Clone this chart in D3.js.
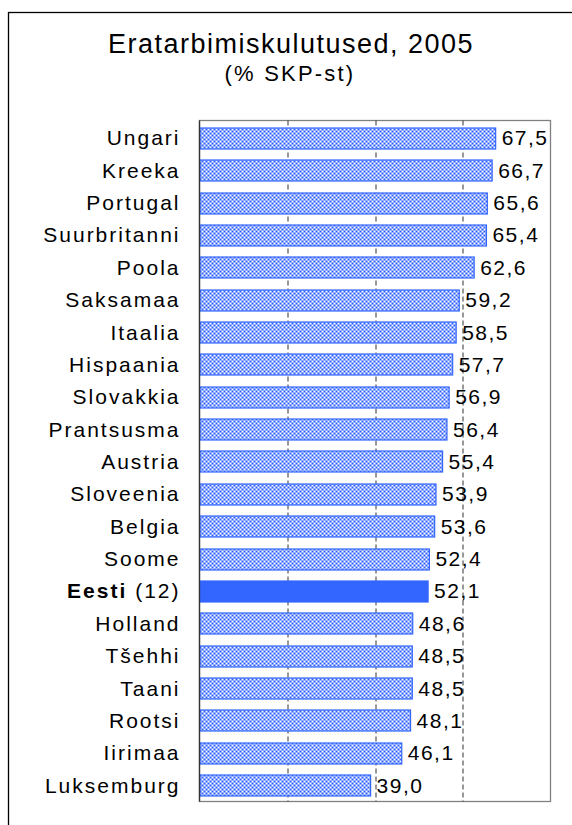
<!DOCTYPE html>
<html>
<head>
<meta charset="utf-8">
<style>
body { margin: 0; background: #fff; }
text { font-family: "Liberation Sans", Arial, sans-serif; }
</style>
</head>
<body>
<svg width="572" height="825"></svg>
<script src="https://cdn.jsdelivr.net/npm/d3@7/dist/d3.min.js"></script>
<script>

var countries = ["Ungari", "Kreeka", "Portugal", "Suurbritanni", "Poola", "Saksamaa", "Itaalia",
  "Hispaania", "Slovakkia", "Prantsusma", "Austria", "Sloveenia", "Belgia", "Soome",
  "Eesti", "Holland", "Tšehhi", "Taani", "Rootsi", "Iirimaa", "Luksemburg"];
var values = [67.5, 66.7, 65.6, 65.4, 62.6, 59.2, 58.5, 57.7, 56.9, 56.4, 55.4, 53.9,
  53.6, 52.4, 52.1, 48.6, 48.5, 48.5, 48.1, 46.1, 39.0];
var highlight = "Eesti";
var highlightNote = " (12)";
var gridTicks = [20, 40, 60];
var title = "Eratarbimiskulutused, 2005";
var subtitle = "(% SKP-st)";

var svg = d3.select("svg"),
    margin = {top: 120.5, left: 199.5, right: 21.5, bottom: 23.5},
    width = +svg.attr("width") - margin.left - margin.right,
    height = +svg.attr("height") - margin.top - margin.bottom;

var blue = "#3366ff";

// checker pattern for the bars
var pat = svg.append("defs").append("pattern")
    .attr("id", "checks")
    .attr("patternUnits", "userSpaceOnUse")
    .attr("width", 4).attr("height", 4);
pat.append("rect").attr("width", 4).attr("height", 4).attr("fill", "#2a5cff");
pat.append("rect").attr("width", 2).attr("height", 2).attr("fill", "#fff");
pat.append("rect").attr("x", 2).attr("y", 2).attr("width", 2).attr("height", 2).attr("fill", "#fff");

// outer frame (runs off the picture on the right and bottom)
svg.append("rect")
    .attr("x", 8.5).attr("y", 12.5)
    .attr("width", 700).attr("height", 900)
    .attr("fill", "none")
    .attr("stroke", "#000")
    .attr("stroke-width", 1.3);

svg.append("text")
    .attr("x", 291).attr("y", 53)
    .attr("text-anchor", "middle")
    .attr("font-size", 27)
    .attr("letter-spacing", 1.5)
    .text(title);

svg.append("text")
    .attr("x", 290).attr("y", 81)
    .attr("text-anchor", "middle")
    .attr("font-size", 22)
    .attr("letter-spacing", 2.2)
    .text(subtitle);

var x = d3.scaleLinear().domain([0, 80]).range([0, width]);
var y = d3.scaleBand().domain(countries).range([0, height]).paddingInner(0.32).paddingOuter(0.18);

var g = svg.append("g").attr("transform", "translate(" + margin.left + "," + margin.top + ")");

// plot area border
g.append("rect")
    .attr("width", width).attr("height", height)
    .attr("fill", "none")
    .attr("stroke", "#808080")
    .attr("stroke-width", 1.3);

g.selectAll(".grid")
    .data(gridTicks)
    .enter().append("line")
      .attr("class", "grid")
      .attr("x1", function(d) { return Math.round(x(d)) + 0.5; })
      .attr("x2", function(d) { return Math.round(x(d)) + 0.5; })
      .attr("y1", 0).attr("y2", height)
      .attr("stroke", "#333")
      .attr("stroke-dasharray", "5,3");

var rows = countries.map(function(c, i) { return {name: c, value: values[i]}; });

g.selectAll(".bar")
    .data(rows)
    .enter().append("rect")
      .attr("class", "bar")
      .attr("x", 0.5)
      .attr("y", function(d) { return Math.round(y(d.name) + 1) + 0.5; })
      .attr("width", function(d) { return x(d.value) - 0.5; })
      .attr("height", Math.round(y.bandwidth()) - 1)
      .attr("fill", function(d) { return d.name === highlight ? blue : "url(#checks)"; })
      .attr("stroke", blue)
      .attr("stroke-width", 1.2);

// left axis line
g.append("line")
    .attr("x1", 0).attr("x2", 0)
    .attr("y1", 0).attr("y2", height)
    .attr("stroke", "#333")
    .attr("stroke-width", 1.3);

var comma = function(v) { return d3.format(".1f")(v).replace(".", ","); };

g.selectAll(".val")
    .data(rows)
    .enter().append("text")
      .attr("class", "val")
      .attr("x", function(d) { return x(d.value) + 6; })
      .attr("y", function(d) { return y(d.name) + y.bandwidth() / 2 + 8; })
      .attr("font-size", 21)
      .attr("letter-spacing", 1.5)
      .text(function(d) { return comma(d.value); });

var labels = g.selectAll(".lab")
    .data(rows)
    .enter().append("text")
      .attr("class", "lab")
      .attr("x", -19)
      .attr("y", function(d) { return y(d.name) + y.bandwidth() / 2 + 8; })
      .attr("text-anchor", "end")
      .attr("font-size", 21)
      .attr("letter-spacing", 2);

labels.filter(function(d) { return d.name !== highlight; })
    .text(function(d) { return d.name; });

var hl = labels.filter(function(d) { return d.name === highlight; });
hl.append("tspan").attr("font-weight", "bold").text(highlight);
hl.append("tspan").text(highlightNote);

</script>
</body>
</html>
